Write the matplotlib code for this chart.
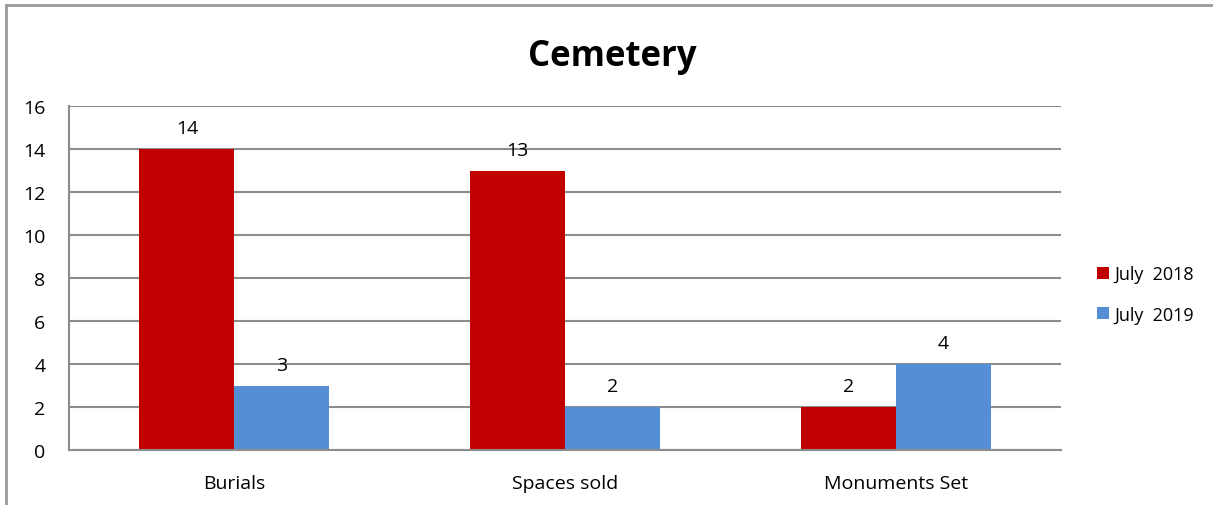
import numpy as np
import matplotlib.pyplot as plt
from matplotlib.lines import Line2D

categories = ['Burials', 'Spaces sold', 'Monuments Set']
july_2018 = [14, 13, 2]
july_2019 = [3, 2, 4]
series_names = ['July  2018', 'July  2019']
yticks = [0, 2, 4, 6, 8, 10, 12, 14, 16]

plt.rcParams['font.family'] = ['Open Sans', 'DejaVu Sans']

fig = plt.figure(figsize=(12.13, 5.06), dpi=100)
ax = fig.add_axes([0.0569, 0.1087, 0.8178, 0.6798])

x = np.arange(len(categories))
w = 0.287
b1 = ax.bar(x - w / 2, july_2018, w, color='#C00000', label=series_names[0], zorder=2)
b2 = ax.bar(x + w / 2, july_2019, w, color='#558ED5', label=series_names[1], zorder=2)

# value labels above the bars
for bars, vals in ((b1, july_2018), (b2, july_2019)):
    for r, v in zip(bars, vals):
        ax.text(r.get_x() + r.get_width() / 2, v + 0.55, str(v),
                ha='center', va='bottom', fontsize=14, color='black', zorder=3)

ax.set_xlim(-0.5, len(categories) - 0.5)
ax.set_ylim(0, 16)
ax.set_yticks(yticks)
ax.set_xticks(x)
ax.set_xticklabels(categories)
ax.tick_params(axis='both', length=0, labelsize=14, colors='black')
ax.tick_params(axis='y', pad=17)
ax.tick_params(axis='x', pad=17)

ax.yaxis.grid(True, color='#8C8C8C', linewidth=1.5, zorder=0)
ax.set_axisbelow(True)
for s in ('top', 'right'):
    ax.spines[s].set_visible(False)
for s in ('left', 'bottom'):
    ax.spines[s].set_color('#8C8C8C')
    ax.spines[s].set_linewidth(1.5)

fig.text(0.505, 0.888, 'Cemetery', ha='center', va='center',
         fontsize=25, fontweight='bold')

ax.legend(loc='center left', bbox_to_anchor=(1.02, 0.452), frameon=False,
          fontsize=13, handlelength=0.65, handleheight=0.65, handletextpad=0.3,
          labelspacing=1.25)

# outer chart border (top and left visible)
fig.add_artist(Line2D([0.005, 0.005], [0, 0.988], color='#9A9A9A', linewidth=2,
                      transform=fig.transFigure))
fig.add_artist(Line2D([0.005, 1], [0.988, 0.988], color='#9A9A9A', linewidth=2,
                      transform=fig.transFigure))

fig.savefig('out.png', dpi=100)
